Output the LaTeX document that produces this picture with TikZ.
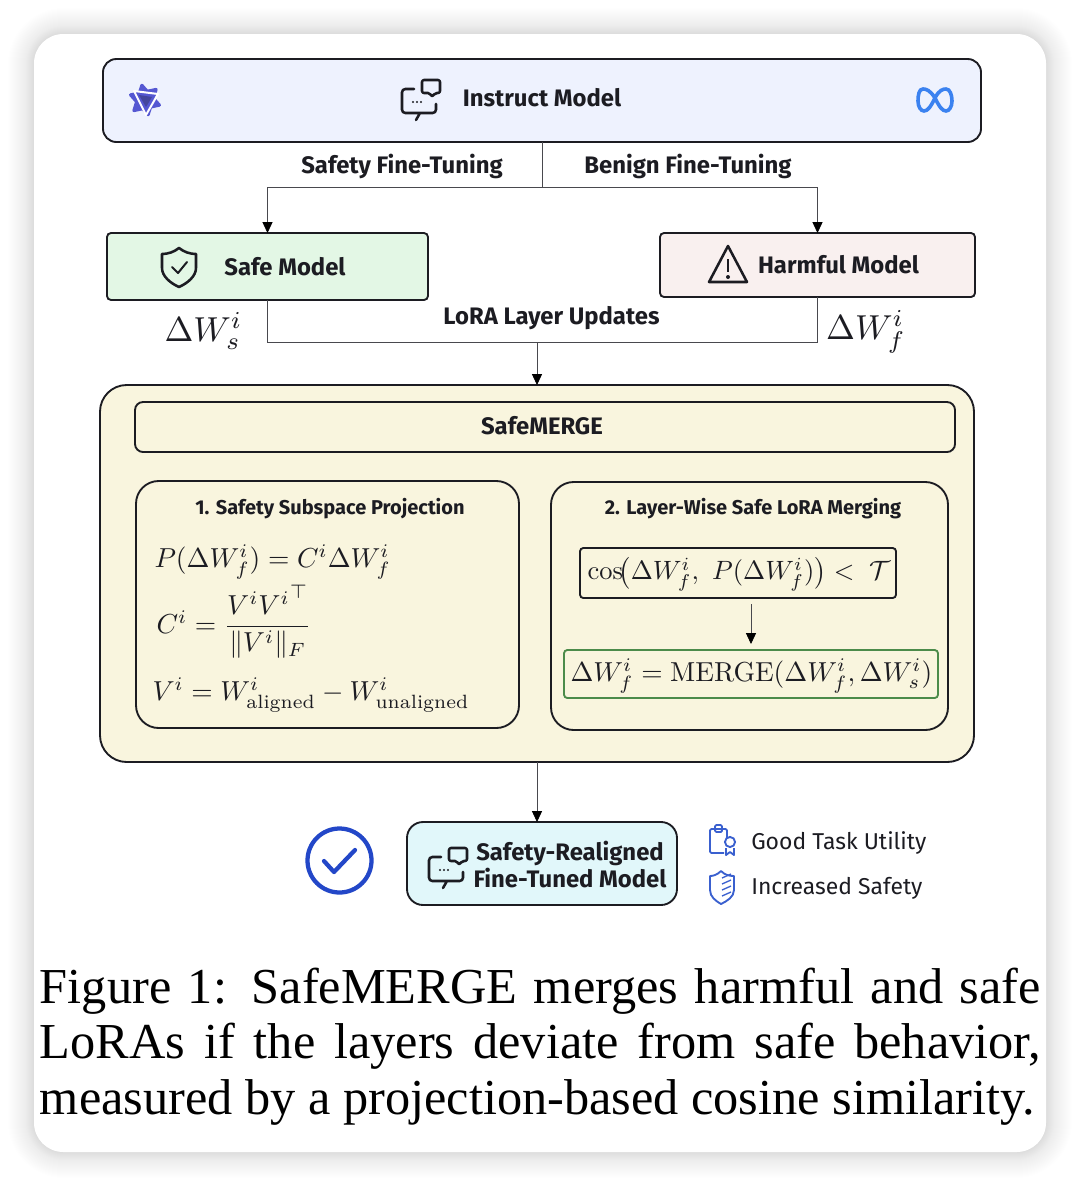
\documentclass[tikz,border=0pt]{standalone}
\usepackage{amsmath,amssymb}
\usepackage[no-math]{fontspec}
\usetikzlibrary{arrows.meta,positioning}
\newfontfamily\plexfont{Fira Sans}
\newfontfamily\captionfont{Liberation Serif}
\definecolor{iconblue}{HTML}{3A60CF}
\definecolor{checkblue}{HTML}{2347C8}
\definecolor{metablue}{HTML}{3B82F0}
\definecolor{qwenblue}{HTML}{5558D2}
\definecolor{inkdark}{HTML}{1C1C22}
\definecolor{panelyellow}{HTML}{F9F5DE}
\definecolor{instructfill}{HTML}{EEF2FE}
\definecolor{safefill}{HTML}{E3F7E5}
\definecolor{harmfill}{HTML}{F9F0EF}
\definecolor{resultfill}{HTML}{E1F7FA}
\definecolor{mergegreen}{HTML}{4C8B4A}
\tikzset{
    chaticon/.pic={
        \draw[inkdark, line width=1.9pt, rounded corners=2.5pt, line cap=round]
            (14,10) -- (2,10) -- (2,34) -- (20,34) (20,34) -- (16,41) (20,34) -- (36,34) -- (36,25);
        \draw[inkdark, line width=1.9pt, rounded corners=1.5pt, line join=round]
            (22,1) -- (40,1) -- (40,14) -- (35,14) -- (32,18) -- (30,14) -- (22,14) -- cycle;
        \foreach \dotx in {13,17,21} \fill[inkdark] (\dotx,23) circle (0.9pt);
    }
}
\begin{document}
\begin{tikzpicture}[
    x=0.75pt, y=-0.75pt,
    box/.style={draw=inkdark, line width=1.4pt, inner sep=0pt, outer sep=0pt, align=center},
    modelbox/.style={box, rounded corners=3pt},
    panel/.style={box, fill=panelyellow},
    flow/.style={-{Triangle[length=8.25pt, width=7.6pt, color=black]}, line width=0.6pt, draw=inkdark!80},
    wire/.style={line width=0.6pt, draw=inkdark!80},
    boldlabel/.style={font=\plexfont\bfseries\fontsize{17.9pt}{20.2pt}\selectfont, inner sep=0pt, text=inkdark, align=center},
    smalllabel/.style={font=\plexfont\bfseries\fontsize{15pt}{18pt}\selectfont, inner sep=0pt, text=inkdark},
    plainlabel/.style={font=\plexfont\fontsize{17.2pt}{20pt}\selectfont, inner sep=0pt, text=inkdark, anchor=west},
    formula/.style={scale=2.06, inner sep=0pt, anchor=west, text=inkdark},
    deltalabel/.style={scale=2.6, inner sep=0pt, text=inkdark}
]
\useasboundingbox (0,0) rectangle (1080,1186);
% card and its shadow
\foreach \s in {1,...,30} {
    \pgfmathsetmacro{\shade}{0.00022*(31-\s)+0.001}
    \fill[black, opacity=\shade, rounded corners={(30+\s)*0.75pt}] (34-\s,34-\s) rectangle (1046+\s,1152+\s);
}
\fill[white, rounded corners=22pt] (34,34) rectangle (1046,1152);
% model boxes
\node[modelbox, rounded corners=10pt, fill=instructfill, minimum width=658.5pt, minimum height=62.25pt] (instruct) at (542,100.5) {};
\node[modelbox, fill=safefill, minimum width=240.75pt, minimum height=50.25pt, below=68.25pt of instruct, xshift=-205.875pt] (safe) {};
\node[modelbox, fill=harmfill, minimum width=236.25pt, minimum height=48pt, below=68.25pt of instruct, xshift=206.625pt] (harmful) {};
\node[panel, rounded corners=20pt, minimum width=655.5pt, minimum height=282.75pt, below=63.75pt of safe, xshift=202.125pt] (merge) {};
\node[panel, rounded corners=6pt, minimum width=615pt, minimum height=37.5pt, below=12.75pt of merge.north, xshift=6pt] (title) {};
\node[panel, rounded corners=17pt, minimum width=287.25pt, minimum height=185.25pt, below=21.75pt of title, xshift=-163.125pt] (projection) {};
\node[panel, rounded corners=17pt, minimum width=297.75pt, minimum height=186pt, right=24pt of projection, yshift=-1.125pt] (layerwise) {};
\node[panel, rounded corners=2.5pt, minimum width=237pt, minimum height=37.5pt, below=49.5pt of layerwise.north, xshift=-8.625pt] (cosine) {};
\node[panel, draw=mergegreen, rounded corners=2.5pt, minimum width=280.5pt, minimum height=36pt, below=39pt of cosine, xshift=9.75pt] (merged) {};
\node[modelbox, rounded corners=12pt, fill=resultfill, minimum width=202.5pt, minimum height=62.25pt, below=45pt of merge, xshift=3.75pt] (result) {};
% box texts
\node[boldlabel] (instructtext) at (542,98) {Instruct Model};
\node[boldlabel] (safetext) at (285,267) {Safe Model};
\node[boldlabel] (harmfultext) at (838.5,265) {Harmful Model};
\node[boldlabel] (safetune) at (402,166.5) {Safety Fine-Tuning};
\node[boldlabel] (benigntune) at (688,166) {Benign Fine-Tuning};
\node[boldlabel] (updates) at (551.5,318) {LoRA Layer Updates};
\node[boldlabel] (titletext) at (542,426) {SafeMERGE};
\node[deltalabel] (deltasafe) at (203.5,331) {$\Delta W_s^i$};
\node[deltalabel] (deltaharm) at (866,332) {$\Delta W_f^i$};
\node[smalllabel] (projtitle) at (330,509) {1. Safety Subspace Projection};
\node[smalllabel] (layertitle) at (753,509) {2. Layer-Wise Safe LoRA Merging};
\node[formula] (eqproject) at (154,562) {$P(\Delta W_f^i) = C^i \Delta W_f^i$};
\node[formula] (eqcoeff) at (156,622) {$C^i = \dfrac{V^i {V^i}^{\top}}{\|V^i\|_F}$};
\node[formula] (eqdiff) at (152,695) {$V^i = W_{\text{aligned}}^i - W_{\text{unaligned}}^i$};
\node[formula, scale=0.965] (eqcos) at (587,574) {$\cos\!\bigl(\Delta W_f^i,\ P(\Delta W_f^i)\bigr) <\; \mathcal{T}$};
\node[formula] (eqmerge) at (570,676) {$\Delta W_f^i = \mathrm{MERGE}(\Delta W_f^i, \Delta W_s^i)$};
\node[boldlabel] (resulttext) at (570,864.5) {Safety-Realigned\\Fine-Tuned Model};
\node[plainlabel] (utility) at (751,842.5) {Good Task Utility};
\node[plainlabel] (safety) at (751,888.5) {Increased Safety};
\node[font=\captionfont\fontsize{37.75pt}{41.6pt}\selectfont, text width=750.75pt, align=justify, inner sep=0pt] (caption) at (540.5,1046.5)
    {Figure 1: SafeMERGE merges harmful and safe LoRAs if the layers deviate from safe behavior, measured by a projection-based cosine similarity.};
% connectors
\coordinate (split) at (instruct.south |- 0,187);
\coordinate (join) at (merge.north |- 0,342);
\draw[wire] (instruct.south) -- (split);
\draw[flow] (split) -| (safe.north);
\draw[flow] (split) -| (harmful.north);
\draw[wire] (safe.south) |- (join);
\draw[wire] (harmful.south) |- (join);
\draw[flow] (join) -- (merge.north);
\draw[flow] (merge.south) -- (merge.south |- result.north);
\draw[flow] ([yshift=-4.5pt]merged.north |- cosine.south) -- ([yshift=4.5pt]merged.north);
% icons
\pic at (400,79) {chaticon};
\pic at (427,847) {chaticon};
\filldraw[qwenblue, line width=2.4pt, line join=round, rotate around={12:(145,100)}] (145,85) -- (158,108) -- (132,108) -- cycle;
\filldraw[qwenblue, line width=2.4pt, line join=round, rotate around={12:(145,100)}] (145,115) -- (132,92) -- (158,92) -- cycle;
\draw[white, line width=1.5pt, line join=round] (134,91) -- (158,94) -- (146,115) -- cycle;
\fill[inkdark!30!qwenblue] (139,95) -- (152,97) -- (146,107) -- cycle;
\draw[metablue, line width=2.7pt]
    (935,98) .. controls (930,90) and (926,89) .. (923,89) .. controls (919,89) and (918,95) .. (918,101)
    .. controls (918,107) and (921,111) .. (924,111) .. controls (928,111) and (931,106) .. (935,98)
    .. controls (939,90) and (943,89) .. (946,89) .. controls (950,89) and (952,95) .. (952,101)
    .. controls (952,107) and (949,111) .. (946,111) .. controls (942,111) and (939,106) .. (935,98) -- cycle;
\draw[inkdark, line width=1.9pt, line join=round]
    (179,248) .. controls (174,252) and (168,254) .. (162,254) -- (162,268)
    .. controls (162,276) and (170,283) .. (179,287) .. controls (188,283) and (196,276) .. (196,268)
    -- (196,254) .. controls (190,254) and (184,252) .. (179,248) -- cycle;
\draw[inkdark, line width=1.5pt, line cap=round, line join=round] (172,267) -- (178,273) -- (187,262);
\draw[inkdark, line width=1.9pt, line join=round] (728,246) -- (747,282) -- (709,282) -- cycle;
\draw[inkdark, line width=1.9pt] (728,259) -- (728,272);
\fill[inkdark] (728,277) circle (1.5pt);
\draw[checkblue, line width=3.2pt] (339.5,860.5) circle (24pt);
\draw[checkblue, line width=3.2pt, line cap=round, line join=round] (324,861) -- (334,872) -- (355,850);
\draw[iconblue, line width=1.4pt, rounded corners=1pt] (727,838) -- (727,829) -- (710,829) -- (710,853) -- (724,853);
\draw[iconblue, line width=1.4pt, rounded corners=1pt] (715,825) rectangle (722,832);
\draw[iconblue, line width=1.4pt] (730,842) circle (3.8pt);
\draw[iconblue, line width=1.4pt, line join=round] (726,848) -- (726,855) -- (730,852) -- (734,855) -- (734,848);
\draw[iconblue, line width=1.4pt, line join=round]
    (721,871) .. controls (717,875) and (713,876) .. (710,876) -- (710,890)
    .. controls (710,897) and (716,901) .. (721,904) .. controls (727,901) and (734,897) .. (734,890)
    -- (734,876) .. controls (729,876) and (725,875) .. (721,871) -- cycle;
\foreach \stripe in {878,884,890,896}
    \draw[iconblue, line width=1pt] (722,\stripe) -- (731,\stripe-4);
\end{tikzpicture}
\end{document}
